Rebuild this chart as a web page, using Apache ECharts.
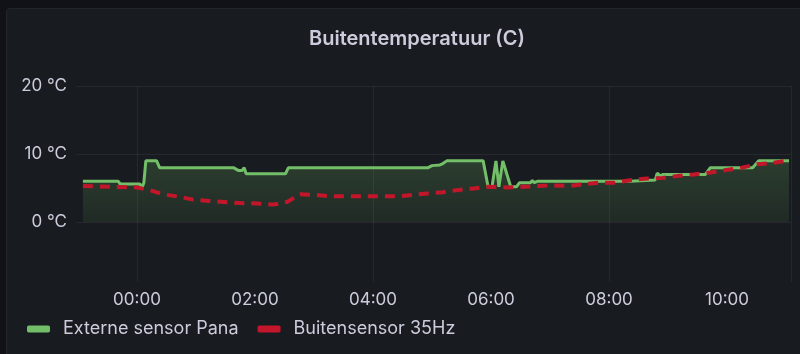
<!DOCTYPE html>
<html>
<head>
<meta charset="utf-8">
<script src="https://cdn.jsdelivr.net/npm/echarts@6/dist/echarts.min.js"></script>
<style>
html,body{margin:0;padding:0;background:#111217;}
#c{width:800px;height:354px;}
</style>
</head>
<body>
<div id="c"></div>
<script>
// ---- data ----
const titleText = 'Buitentemperatuur (C)';
const seriesNames = ['Externe sensor Pana', 'Buitensensor 35Hz'];

const greenTimes = ['23:05','23:41','23:43','00:03','00:05','00:07','00:09','00:20','00:23','01:38','01:43','01:47','01:49','01:51','02:31','02:34','04:56','05:00','05:08','05:11','05:13','05:15','05:52','05:57','06:01','06:05','06:08','06:12','06:14','06:20','06:26','06:29','06:40','06:42','06:44','06:47','08:21','08:23','08:47','08:49','08:52','08:55','09:38','09:43','10:26','10:32','11:03'];
const greenValues = [6.0,6.0,5.6,5.6,5.0,5.8,9.0,9.0,8.0,8.0,7.6,7.6,8.0,7.1,7.1,8.0,8.0,8.3,8.4,8.6,8.4,9.0,9.0,5.2,5.2,9.0,5.2,9.0,9.0,5.2,5.2,5.8,5.8,6.1,5.8,6.0,6.0,6.2,6.2,7.2,6.8,7.0,7.0,8.0,8.0,9.0,9.0];

const redTimes = ['23:05','00:00','00:13','00:26','00:44','00:57','01:14','01:45','02:02','02:18','02:25','02:33','02:46','03:01','03:16','04:27','04:40','04:55','05:11','05:26','05:42','05:57','06:16','06:33','06:48','07:03','07:20','07:36','07:51','08:07','08:23','08:39','08:55','09:11','09:26','09:43','09:59','10:15','10:31','10:46','11:01'];
const redValues = [5.3,5.1,4.7,4.1,3.7,3.3,3.1,2.8,2.75,2.6,2.7,3.0,4.1,4.0,3.8,3.8,4.0,4.2,4.4,4.7,4.95,5.2,5.1,5.2,5.3,5.4,5.3,5.6,5.8,5.8,6.2,6.4,6.5,6.8,7.0,7.3,7.65,8.0,8.5,8.7,9.0];

const xStart = '22:58';
const xEnd = '11:05';
const yMin = -8.8;
const yMax = 20;
// --------------

function toTs(t){
  const p = t.split(':').map(Number);
  const d = new Date(2024, 0, 2, p[0], p[1]);
  if (p[0] >= 20) d.setDate(d.getDate() - 1);
  return d.getTime();
}
function pad(n){ return (n < 10 ? '0' : '') + n; }

const greenData = greenTimes.map((t, i) => [toTs(t), greenValues[i]]);
const redData = redTimes.map((t, i) => [toTs(t), redValues[i]]);

const txt = '#ccccdc';
const gridCol = 'rgba(204,204,220,0.08)';
const font = 'Inter, "Noto Sans", sans-serif';

const chart = echarts.init(document.getElementById('c'), null, {renderer: 'canvas'});
chart.setOption({
  animation: false,
  backgroundColor: '#111217',
  graphic: [{
    type: 'rect', z: -10, silent: true,
    shape: {x: 6.5, y: 8.5, width: 820, height: 360, r: 3},
    style: {fill: '#181b1f', stroke: '#232529', lineWidth: 1}
  }],
  title: {
    text: titleText, left: 412, top: 24, textAlign: 'center',
    textStyle: {color: txt, fontSize: 20, fontWeight: 600, fontFamily: font}
  },
  legend: {
    left: 27, top: 320, padding: 0, itemWidth: 23, itemHeight: 7, itemGap: 19,
    icon: 'roundRect',
    textStyle: {color: txt, fontSize: 18, fontFamily: font, padding: [0, 0, 0, 8]},
    data: seriesNames
  },
  grid: {left: 76, right: 9, top: 86, bottom: 72, containLabel: false},
  xAxis: {
    type: 'time',
    min: toTs(xStart), max: toTs(xEnd),
    axisLine: {show: false}, axisTick: {show: false},
    splitLine: {show: true, lineStyle: {color: ['transparent', gridCol], width: 1}},
    axisLabel: {
      color: txt, fontSize: 17, fontFamily: font, margin: 9,
      formatter: function (v) {
        const d = new Date(v);
        if (d.getHours() % 2 !== 0 || d.getMinutes() !== 0) return '';
        return pad(d.getHours()) + ':' + pad(d.getMinutes());
      }
    }
  },
  yAxis: {
    type: 'value', min: yMin, max: yMax, splitNumber: 3,
    axisLine: {show: false}, axisTick: {show: false},
    splitLine: {show: true, lineStyle: {color: ['transparent', gridCol, gridCol, gridCol], width: 1}},
    axisLabel: {
      color: txt, fontSize: 17, fontFamily: font, margin: 9, showMinLabel: false,
      formatter: function (v) { return v + ' °C'; }
    }
  },
  series: [
    {
      name: seriesNames[0], type: 'line', data: greenData, symbol: 'none',
      lineStyle: {color: '#73BF69', width: 3},
      itemStyle: {color: '#73BF69'},
      areaStyle: {
        color: new echarts.graphic.LinearGradient(0, 0, 0, 1, [
          {offset: 0, color: 'rgba(115,191,105,0.3)'},
          {offset: 1, color: 'rgba(115,191,105,0.13)'}
        ])
      },
      z: 2
    },
    {
      name: seriesNames[1], type: 'line', data: redData, symbol: 'none',
      lineStyle: {color: '#C4162A', width: 4, type: [10, 7]},
      itemStyle: {color: '#C4162A'},
      z: 3
    }
  ]
});
</script>
</body>
</html>
